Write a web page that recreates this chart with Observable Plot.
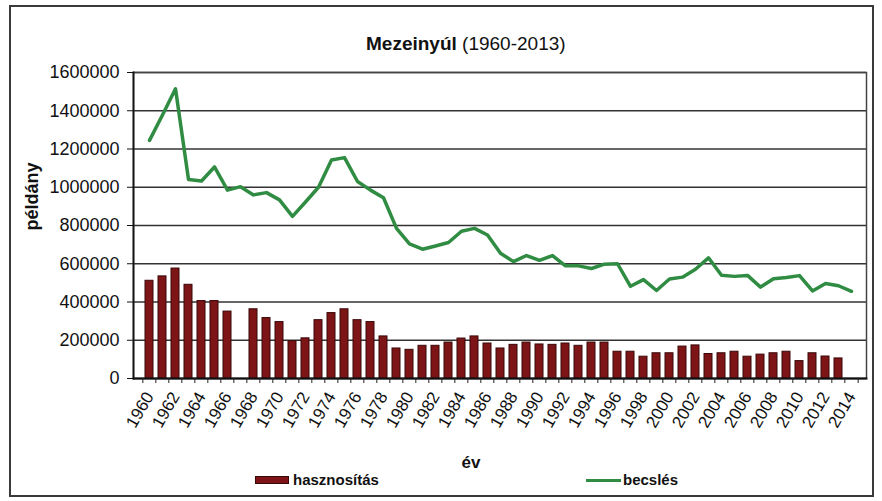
<!DOCTYPE html>
<html>
<head>
<meta charset="utf-8">
<script src="https://cdn.jsdelivr.net/npm/d3@7"></script>
<script src="https://cdn.jsdelivr.net/npm/@observablehq/plot@0.6"></script>
<style>
  html, body { margin: 0; padding: 0; background: #fff; }
  #wrap { position: relative; width: 882px; height: 501px; overflow: hidden;
          font-family: "Liberation Sans", Arial, sans-serif; color: #111; }
  #border { position: absolute; left: 9px; top: 5px; width: 865px; height: 492px;
            border: 2px solid #3a3a3a; box-sizing: border-box; pointer-events: none; }
  #title { position: absolute; left: 366px; top: 33px; font-size: 19px; line-height: 22px; white-space: nowrap; }
  #chart { position: absolute; left: 0; top: 0; }
  .lg-text { position: absolute; top: 470px; font-size: 15px; font-weight: bold; line-height: 20px; }
  #sw-bar { position: absolute; left: 255px; top: 476px; width: 34px; height: 8px;
            background: #7d1416; border: 1px solid #3a0808; box-sizing: border-box; }
  #sw-line { position: absolute; left: 586px; top: 479px; width: 35px; height: 3px; background: #2f8c42; }
</style>
</head>
<body>
<div id="wrap">
  <div id="chart"></div>
  <div id="title"><b>Mezeinyúl</b> (1960-2013)</div>
  <div id="sw-bar"></div><div class="lg-text" style="left:293px">hasznosítás</div>
  <div id="sw-line"></div><div class="lg-text" style="left:623px">becslés</div>
  <div id="border"></div>
</div>
<script>
// ---- data ----
const years = [1960,1961,1962,1963,1964,1965,1966,1967,1968,1969,
               1970,1971,1972,1973,1974,1975,1976,1977,1978,1979,
               1980,1981,1982,1983,1984,1985,1986,1987,1988,1989,
               1990,1991,1992,1993,1994,1995,1996,1997,1998,1999,
               2000,2001,2002,2003,2004,2005,2006,2007,2008,2009,
               2010,2011,2012,2013,2014];

// hasznosítás (bars)
const hasznositas = [511000,534000,575000,490000,405000,405000,350000,null,362000,316000,
                     295000,195000,210000,305000,342000,362000,305000,295000,220000,157000,
                     150000,171000,171000,188000,209000,220000,183000,157000,176000,188000,
                     178000,176000,183000,171000,188000,188000,140000,140000,114000,132000,
                     132000,167000,173000,128000,132000,140000,114000,125000,132000,140000,
                     91000,132000,115000,105000,null];

// becslés (line)
const becsles = [1245000,1378000,1515000,1040000,1033000,1106000,985000,1003000,960000,972000,
                 934000,848000,923000,1000000,1142000,1155000,1030000,985000,945000,785000,
                 704000,676000,693000,711000,770000,785000,750000,655000,611000,643000,
                 618000,643000,589000,589000,575000,598000,600000,482000,517000,460000,
                 520000,530000,571000,631000,540000,534000,539000,478000,522000,528000,
                 538000,458000,497000,485000,456000];

const xTickLabels = [1960,1962,1964,1966,1968,1970,1972,1974,1976,1978,1980,1982,1984,1986,
                     1988,1990,1992,1994,1996,1998,2000,2002,2004,2006,2008,2010,2012,2014];
const yTicks = [0,200000,400000,600000,800000,1000000,1200000,1400000,1600000];

// ---- tables built from the arrays ----
const barData = years.map((y, i) => ({year: y, value: hasznositas[i]})).filter(d => d.value != null);
const lineData = years.map((y, i) => ({year: y, value: becsles[i]}));

const W = 882, H = 501, mL = 133, mR = 16, mT = 72, mB = 123;
const step = (W - mL - mR) / years.length;
const font = "'Liberation Sans', Arial, sans-serif";

const chart = Plot.plot({
  width: W, height: H,
  marginLeft: mL, marginRight: mR, marginTop: mT, marginBottom: mB,
  style: {fontFamily: font, fontSize: "17px", color: "#111", background: "transparent"},
  x: {type: "band", domain: years, paddingInner: 0.42, paddingOuter: 0.21, label: null},
  y: {domain: [0, 1600000], label: null},
  marks: [
    Plot.gridY({ticks: yTicks, stroke: "#333", strokeOpacity: 1, strokeWidth: 1.5}),
    Plot.frame({stroke: "#444", strokeWidth: 1.5}),
    Plot.barY(barData, {x: "year", y: "value", fill: "#7d1416", stroke: "#3a0808", strokeWidth: 1}),
    Plot.line(lineData, {x: "year", y: "value", stroke: "#2f8c42", strokeWidth: 3.5, strokeLinejoin: "round"}),
    Plot.frame({anchor: "left", stroke: "#111", strokeWidth: 1.8}),
    Plot.frame({anchor: "bottom", stroke: "#111", strokeWidth: 1.8}),
    Plot.axisY({ticks: yTicks, tickFormat: d => String(d), tickSize: 6, tickPadding: 8, fontSize: 18, stroke: "#111", label: null}),
    Plot.axisX({ticks: years, tickSize: 5, tickFormat: () => "", dx: -step / 2, stroke: "#222", label: null}),
    Plot.axisX({ticks: [years[years.length - 1]], tickSize: 5, tickFormat: () => "", dx: step / 2, stroke: "#222", label: null}),
    Plot.axisX({ticks: xTickLabels, tickSize: 0, tickPadding: 15, tickRotate: -60, fontSize: 17, tickFormat: d => String(d), label: null}),
    Plot.text(["példány"], {frameAnchor: "left", rotate: -90, dx: -101, dy: 5, fontWeight: "bold", fontSize: 18}),
    Plot.text(["év"], {frameAnchor: "bottom", lineAnchor: "middle", dx: -29, dy: 84, fontWeight: "bold", fontSize: 17})
  ]
});
document.getElementById("chart").appendChild(chart);
</script>
</body>
</html>
